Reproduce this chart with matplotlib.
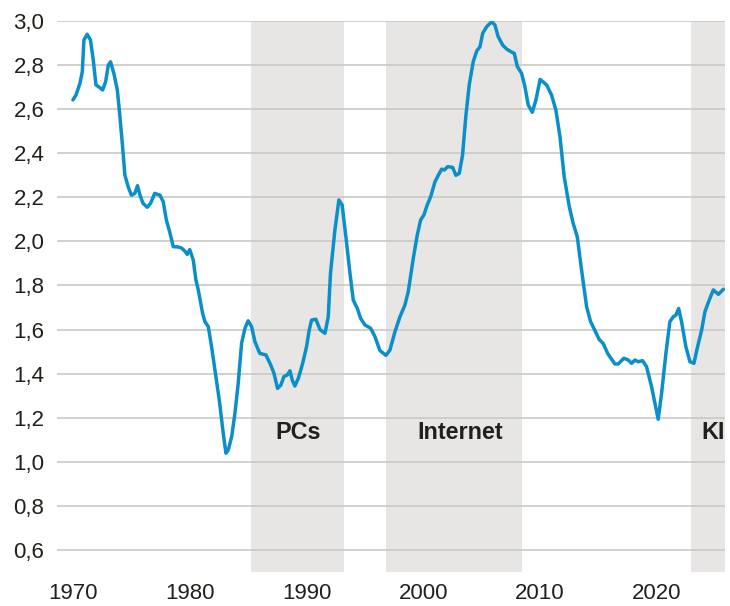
"""Line chart with shaded technology eras."""
import matplotlib
matplotlib.use("Agg")
import matplotlib.pyplot as plt
import numpy as np

plt.rcParams["font.family"] = ["Liberation Sans", "DejaVu Sans"]

years = [
    1970.0, 1970.26, 1970.6, 1970.8, 1970.94, 1971.22, 1971.5, 1971.74, 1971.97,
    1972.25, 1972.54, 1972.8, 1973.03, 1973.22, 1973.5, 1973.8, 1974.0, 1974.25,
    1974.45, 1974.73, 1975.0, 1975.3, 1975.53, 1975.74, 1976.0, 1976.36, 1976.65,
    1977.0, 1977.45, 1977.73, 1978.0, 1978.3, 1978.59, 1979.0, 1979.3, 1979.6,
    1979.79, 1980.0, 1980.3, 1980.53, 1980.73, 1981.1, 1981.3, 1981.59, 1981.87,
    1982.16, 1982.53, 1982.87, 1983.1, 1983.3, 1983.59, 1983.87, 1984.15, 1984.44,
    1984.73, 1985.0, 1985.3, 1985.58, 1986.0, 1986.52, 1986.87, 1987.2, 1987.52,
    1987.8, 1988.06, 1988.35, 1988.58, 1988.78, 1989.0, 1989.3, 1989.67, 1990.0,
    1990.23, 1990.43, 1990.8, 1991.15, 1991.58, 1991.86, 1992.05, 1992.43, 1992.77,
    1993.05, 1993.37, 1993.72, 1994.0, 1994.35, 1994.63, 1995.0, 1995.49, 1995.86,
    1996.28, 1996.8, 1997.14, 1997.57, 1998.0, 1998.42, 1998.71, 1999.14, 1999.48,
    1999.77, 2000.05, 2000.33, 2000.63, 2001.0, 2001.28, 2001.57, 2001.8, 2002.08,
    2002.51, 2002.79, 2003.08, 2003.36, 2003.65, 2003.93, 2004.27, 2004.57, 2004.85,
    2005.08, 2005.42, 2005.85, 2006.13, 2006.41, 2006.79, 2007.13, 2007.5, 2007.79,
    2008.05, 2008.41, 2008.7, 2008.98, 2009.33, 2009.64, 2010.0, 2010.56, 2010.98,
    2011.35, 2011.7, 2012.06, 2012.5, 2012.83, 2013.18, 2013.55, 2013.98, 2014.32,
    2014.6, 2015.06, 2015.4, 2015.8, 2016.12, 2016.4, 2016.69, 2017.17, 2017.54,
    2017.83, 2018.12, 2018.4, 2018.77, 2019.11, 2019.54, 2019.83, 2020.11, 2020.4,
    2020.77, 2021.11, 2021.4, 2021.63, 2021.86, 2022.11, 2022.48, 2022.83, 2023.17,
    2023.45, 2023.83, 2024.11, 2024.48, 2024.83, 2025.26, 2025.69,
]
values = [
    2.642, 2.664, 2.717, 2.77, 2.914, 2.94, 2.914, 2.823, 2.71,
    2.70, 2.687, 2.725, 2.80, 2.815, 2.763, 2.687, 2.58, 2.43,
    2.30, 2.248, 2.21, 2.218, 2.253, 2.21, 2.173, 2.155, 2.173,
    2.218, 2.21, 2.18, 2.097, 2.04, 1.976, 1.975, 1.97, 1.955,
    1.941, 1.963, 1.916, 1.825, 1.78, 1.674, 1.636, 1.613, 1.522,
    1.416, 1.28, 1.129, 1.039, 1.054, 1.114, 1.22, 1.356, 1.538,
    1.606, 1.64, 1.613, 1.545, 1.492, 1.485, 1.447, 1.404, 1.333,
    1.348, 1.386, 1.394, 1.413, 1.371, 1.344, 1.379, 1.447, 1.522,
    1.598, 1.643, 1.647, 1.60, 1.583, 1.658, 1.855, 2.052, 2.188,
    2.165, 2.021, 1.855, 1.734, 1.696, 1.651, 1.621, 1.606, 1.568,
    1.505, 1.483, 1.507, 1.59, 1.658, 1.711, 1.772, 1.923, 2.029,
    2.097, 2.12, 2.165, 2.203, 2.271, 2.30, 2.328, 2.324, 2.339,
    2.336, 2.30, 2.309, 2.392, 2.574, 2.71, 2.815, 2.864, 2.883,
    2.944, 2.974, 2.997, 2.982, 2.929, 2.891, 2.873, 2.861, 2.853,
    2.793, 2.763, 2.702, 2.619, 2.586, 2.642, 2.735, 2.71, 2.664,
    2.596, 2.475, 2.294, 2.157, 2.082, 2.021, 1.87, 1.704, 1.636,
    1.606, 1.555, 1.537, 1.49, 1.465, 1.444, 1.444, 1.47, 1.462,
    1.447, 1.462, 1.454, 1.459, 1.432, 1.341, 1.265, 1.193, 1.311,
    1.492, 1.636, 1.658, 1.666, 1.696, 1.636, 1.522, 1.454, 1.447,
    1.515, 1.598, 1.681, 1.734, 1.78, 1.76, 1.783,
]

eras = ["PCs", "Internet", "KI"]
era_start = [1985.24, 1996.8, 2022.91]
era_end = [1993.2, 2008.44, 2025.82]
era_label_x = [1989.3, 2003.13, 2024.85]

yticks = [0.6, 0.8, 1.0, 1.2, 1.4, 1.6, 1.8, 2.0, 2.2, 2.4, 2.6, 2.8, 3.0]
xticks = [1970, 1980, 1990, 2000, 2010, 2020]

text_color = "#231f1a"
line_color = "#0a8fc8"
shade_color = "#e8e6e4"

fig = plt.figure(figsize=(7.3, 6.06), dpi=100)
ax = fig.add_axes([0.078, 0.0561, 0.915, 0.9092])

for name, s, e, lx in zip(eras, era_start, era_end, era_label_x):
    ax.axvspan(s, e, color=shade_color, lw=0, zorder=1)
    ax.text(lx, 1.135, name, ha="center", va="center", fontsize=16.8,
            fontweight="bold", color=text_color, zorder=4)

ax.plot(years, values, color=line_color, lw=2.5, zorder=3,
        solid_capstyle="round", solid_joinstyle="round")

ax.set_xlim(1968.63, 2025.82)
ax.set_ylim(0.5, 3.0)
ax.set_yticks(yticks)
ax.set_yticklabels([f"{v:.1f}".replace(".", ",") for v in yticks])
ax.set_xticks(xticks)
ax.set_xticklabels([str(x) for x in xticks])
ax.tick_params(axis="both", length=0, labelsize=16, colors=text_color)
ax.tick_params(axis="y", pad=9)
ax.tick_params(axis="x", pad=8)
ax.grid(axis="y", color="#c8c8c8", lw=1.2)
ax.grid(axis="x", visible=False)
for sp in ax.spines.values():
    sp.set_visible(False)

fig.savefig("out.png", dpi=100)
plt.close(fig)
